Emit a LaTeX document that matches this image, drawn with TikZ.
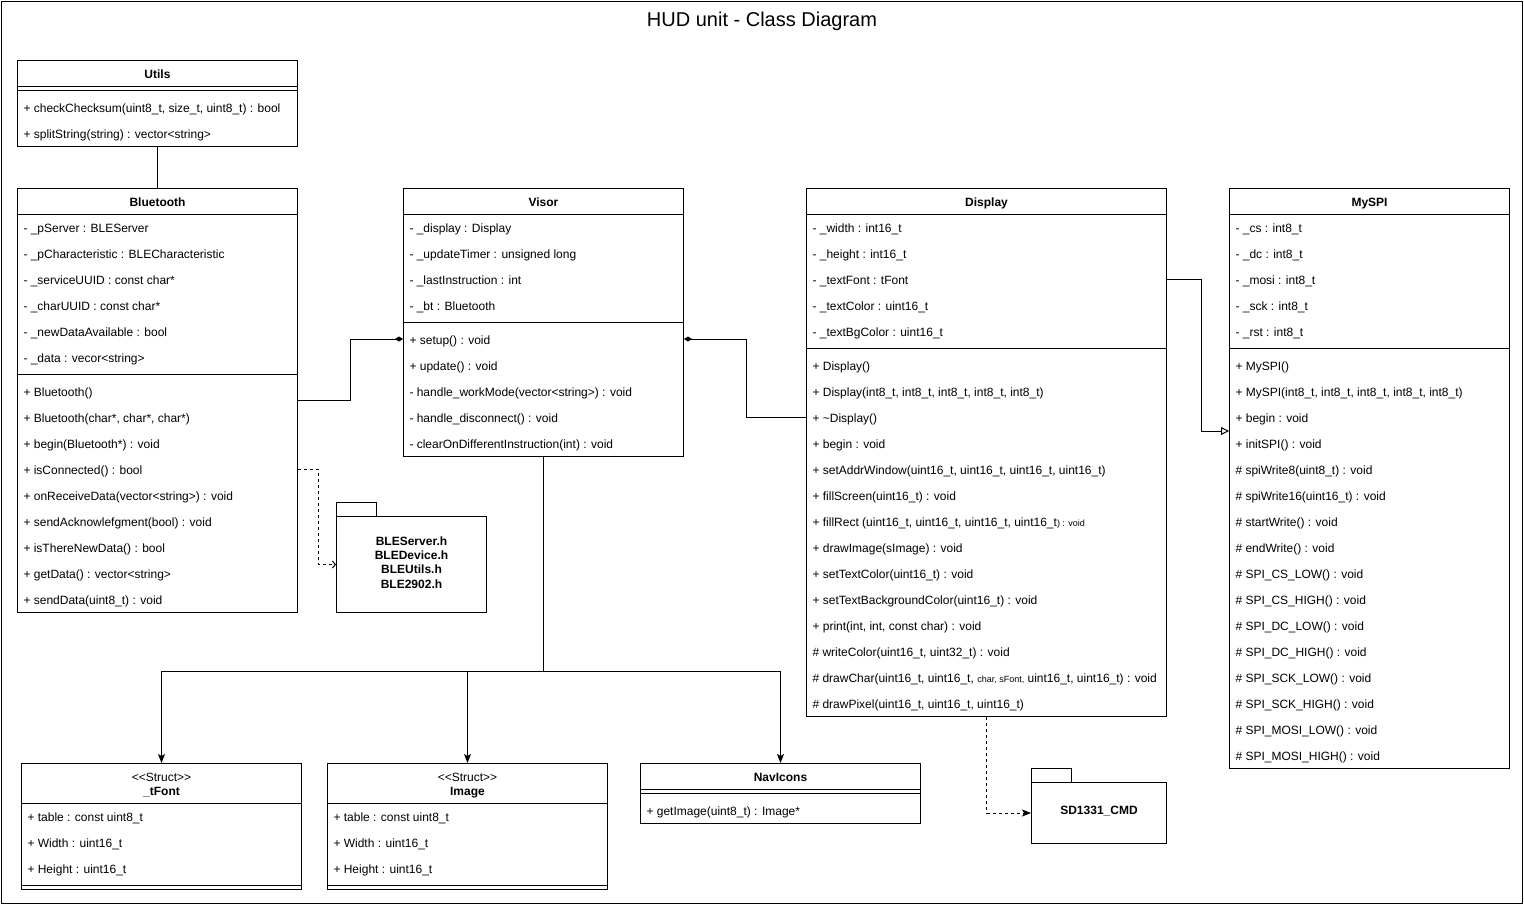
\documentclass[tikz,border=0pt]{standalone}
\usepackage{fontspec}
\setmainfont{Liberation Sans}[Ligatures=TeXOff]
\usetikzlibrary{arrows.meta, positioning, calc}

\begin{document}
\begin{tikzpicture}[
			x=1pt, y=-1pt,
			line width=1pt,
			font=\fontsize{12}{14}\selectfont,
			% Class diagram styles
			classbox/.style={
				draw, rectangle, anchor=north west,
				minimum width=280, inner sep=0pt,
				fill=white
			},
			classname/.style={
				font=\fontsize{12}{14}\selectfont\bfseries,
				inner sep=0pt, text height=10.4pt, text depth=0pt
			},
			stereotype/.style={inner sep=0pt, text height=10.4pt, text depth=0pt},
			member/.style={anchor=west, inner sep=0pt, text height=10.4pt, text depth=0pt},
			pkgtab/.style={
				draw, rectangle, anchor=north west,
				minimum width=40, minimum height=14, inner sep=0pt
			},
			pkgbody/.style={draw, rectangle, anchor=north west, inner sep=0pt, fill=white},
			pkglabel/.style={
				font=\fontsize{12}{14.4}\selectfont\bfseries,
				align=center, inner sep=0pt
			},
			composition/.style={{Diamond[length=8pt,width=5pt]}-},
			inherit/.style={-{Triangle[open,length=8pt,width=8pt]}},
			depend/.style={dash pattern=on 3pt off 3pt, -{Straight Barb[length=3pt,width=7pt]}},
			arrow/.style={-{Stealth[length=9pt,width=7pt,inset=2pt]}},
			dasharrow/.style={dash pattern=on 3pt off 3pt, -{Stealth[length=9pt,width=7pt,inset=2pt]}}
		]

		% Frame and title
		\fill[white] (0,0) rectangle (1524,905);
		\useasboundingbox (0,0) rectangle (1524,905);
		\draw (1.5,1.5) rectangle (1522.5,903.5);
		\node[inner sep=0pt, text height=15pt, text depth=0pt] (title) at (762,19)
			{\fontsize{20}{24}\selectfont HUD unit - Class Diagram};

		% Utils
		\node[classbox, minimum height=86] (utils) at (17,60) {};
		\node[classname] (utils-name) at ($(utils.north)+(0,13)$) {Utils};
		\draw ($(utils.north west)+(0,26)$) -- ++(280,0);
		\draw ($(utils.north west)+(0,30)$) -- ++(280,0);
		\foreach \txt [count=\i] in {
			{+ checkChecksum(uint8\_t, size\_t, uint8\_t) : bool},
			{+ splitString(string) : vector<string>}}
			\node[member] (utils-m\i) at ($(utils.north west)+(6,21+26*\i)$) {\txt};

		% Bluetooth
		\node[classbox, minimum height=424] (bt) at (17,188) {};
		\node[classname] (bt-name) at ($(bt.north)+(0,13)$) {Bluetooth};
		\draw ($(bt.north west)+(0,26)$) -- ++(280,0);
		\draw ($(bt.north west)+(0,186)$) -- ++(280,0);
		\foreach \txt [count=\i] in {
			{- \_pServer : BLEServer},
			{- \_pCharacteristic : BLECharacteristic},
			{- \_serviceUUID : const char*},
			{- \_charUUID : const char*},
			{- \_newDataAvailable : bool},
			{- \_data : vecor<string>}}
			\node[member] (bt-a\i) at ($(bt.north west)+(6,13+26*\i)$) {\txt};
		\foreach \txt [count=\i] in {
			{+ Bluetooth()},
			{+ Bluetooth(char*, char*, char*)},
			{+ begin(Bluetooth*) : void},
			{+ isConnected() : bool},
			{+ onReceiveData(vector<string>) : void},
			{+ sendAcknowlefgment(bool) : void},
			{+ isThereNewData() : bool},
			{+ getData() : vector<string>},
			{+ sendData(uint8\_t) : void}}
			\node[member] (bt-m\i) at ($(bt.north west)+(6,177+26*\i)$) {\txt};

		% Visor
		\node[classbox, minimum height=268] (visor) at (403,188) {};
		\node[classname] (visor-name) at ($(visor.north)+(0,13)$) {Visor};
		\draw ($(visor.north west)+(0,26)$) -- ++(280,0);
		\draw ($(visor.north west)+(0,134)$) -- ++(280,0);
		\foreach \txt [count=\i] in {
			{- \_display : Display},
			{- \_updateTimer : unsigned long},
			{- \_lastInstruction : int},
			{- \_bt : Bluetooth}}
			\node[member] (visor-a\i) at ($(visor.north west)+(6,13+26*\i)$) {\txt};
		\foreach \txt [count=\i] in {
			{+ setup() : void},
			{+ update() : void},
			{- handle\_workMode(vector<string>) : void},
			{- handle\_disconnect() : void},
			{- clearOnDifferentInstruction(int) : void}}
			\node[member] (visor-m\i) at ($(visor.north west)+(6,125+26*\i)$) {\txt};

		% Display
		\node[classbox, minimum width=360, minimum height=528] (display) at (806,188) {};
		\node[classname] (display-name) at ($(display.north)+(0,13)$) {Display};
		\draw ($(display.north west)+(0,26)$) -- ++(360,0);
		\draw ($(display.north west)+(0,160)$) -- ++(360,0);
		\foreach \txt [count=\i] in {
			{- \_width : int16\_t},
			{- \_height : int16\_t},
			{- \_textFont : tFont},
			{- \_textColor : uint16\_t},
			{- \_textBgColor : uint16\_t}}
			\node[member] (display-a\i) at ($(display.north west)+(6,13+26*\i)$) {\txt};
		\foreach \txt [count=\i] in {
			{+ Display()},
			{+ Display(int8\_t, int8\_t, int8\_t, int8\_t, int8\_t)},
			{+ \textasciitilde Display()},
			{+ begin : void},
			{+ setAddrWindow(uint16\_t, uint16\_t, uint16\_t, uint16\_t)},
			{+ fillScreen(uint16\_t) : void},
			{+ fillRect (uint16\_t, uint16\_t, uint16\_t, uint16\_t{\fontsize{9}{9}\selectfont) : void}},
			{+ drawImage(sImage) : void},
			{+ setTextColor(uint16\_t) : void},
			{+ setTextBackgroundColor(uint16\_t) : void},
			{+ print(int, int, const char) : void},
			{\# writeColor(uint16\_t, uint32\_t) : void},
			{\# drawChar(uint16\_t, uint16\_t, {\fontsize{9}{9}\selectfont char, sFont,} uint16\_t, uint16\_t) : void},
			{\# drawPixel(uint16\_t, uint16\_t, uint16\_t)}}
			\node[member] (display-m\i) at ($(display.north west)+(6,151+26*\i)$) {\txt};

		% MySPI
		\node[classbox, minimum height=580] (myspi) at (1229,188) {};
		\node[classname] (myspi-name) at ($(myspi.north)+(0,13)$) {MySPI};
		\draw ($(myspi.north west)+(0,26)$) -- ++(280,0);
		\draw ($(myspi.north west)+(0,160)$) -- ++(280,0);
		\foreach \txt [count=\i] in {
			{- \_cs : int8\_t},
			{- \_dc : int8\_t},
			{- \_mosi : int8\_t},
			{- \_sck : int8\_t},
			{- \_rst : int8\_t}}
			\node[member] (myspi-a\i) at ($(myspi.north west)+(6,13+26*\i)$) {\txt};
		\foreach \txt [count=\i] in {
			{+ MySPI()},
			{+ MySPI(int8\_t, int8\_t, int8\_t, int8\_t, int8\_t)},
			{+ begin : void},
			{+ initSPI() : void},
			{\# spiWrite8(uint8\_t) : void},
			{\# spiWrite16(uint16\_t) : void},
			{\# startWrite() : void},
			{\# endWrite() : void},
			{\# SPI\_CS\_LOW() : void},
			{\# SPI\_CS\_HIGH() : void},
			{\# SPI\_DC\_LOW() : void},
			{\# SPI\_DC\_HIGH() : void},
			{\# SPI\_SCK\_LOW() : void},
			{\# SPI\_SCK\_HIGH() : void},
			{\# SPI\_MOSI\_LOW() : void},
			{\# SPI\_MOSI\_HIGH() : void}}
			\node[member] (myspi-m\i) at ($(myspi.north west)+(6,151+26*\i)$) {\txt};

		% Structs
		\node[classbox, minimum height=126] (tfont) at (21,763) {};
		\node[stereotype] (tfont-st) at ($(tfont.north)+(0,13)$) {<<Struct>>};
		\node[classname] (tfont-name) at ($(tfont.north)+(0,27)$) {\_tFont};
		\draw ($(tfont.north west)+(0,40)$) -- ++(280,0);
		\draw ($(tfont.north west)+(0,122)$) -- ++(280,0);
		\foreach \txt [count=\i] in {
			{+ table : const uint8\_t},
			{+ Width : uint16\_t},
			{+ Height : uint16\_t}}
			\node[member] (tfont-a\i) at ($(tfont.north west)+(6,27+26*\i)$) {\txt};

		\node[classbox, minimum height=126] (image) at (327,763) {};
		\node[stereotype] (image-st) at ($(image.north)+(0,13)$) {<<Struct>>};
		\node[classname] (image-name) at ($(image.north)+(0,27)$) {Image};
		\draw ($(image.north west)+(0,40)$) -- ++(280,0);
		\draw ($(image.north west)+(0,122)$) -- ++(280,0);
		\foreach \txt [count=\i] in {
			{+ table : const uint8\_t},
			{+ Width : uint16\_t},
			{+ Height : uint16\_t}}
			\node[member] (image-a\i) at ($(image.north west)+(6,27+26*\i)$) {\txt};

		% NavIcons
		\node[classbox, minimum height=60] (navicons) at (640,763) {};
		\node[classname] (navicons-name) at ($(navicons.north)+(0,13)$) {NavIcons};
		\draw ($(navicons.north west)+(0,26)$) -- ++(280,0);
		\draw ($(navicons.north west)+(0,30)$) -- ++(280,0);
		\node[member] (navicons-m1) at ($(navicons.north west)+(6,47)$) {+ getImage(uint8\_t) : Image*};

		% Packages
		\node[pkgtab] (blepkg-tab) at (336,502) {};
		\node[pkgbody, minimum width=150, minimum height=96] (blepkg) at (336,516) {};
		\node[pkglabel] (blepkg-label) at ($(blepkg.center)+(0,-2)$)
			{BLEServer.h\\BLEDevice.h\\BLEUtils.h\\BLE2902.h};

		\node[pkgtab] (sdpkg-tab) at (1031,768) {};
		\node[pkgbody, minimum width=135, minimum height=61] (sdpkg) at (1031,782) {};
		\node[pkglabel] (sdpkg-label) at ($(sdpkg.center)+(0,-2)$) {SD1331\_CMD};

		% Connectors
		\draw (utils.south) -- (bt.north);
		\draw[composition] (visor.west |- visor-m1) -- ++(-53,0) |- (bt.east);
		\draw[composition] (visor.east |- visor-m1) -- ++(62,0) |- (display.west |- display-m3);
		\coordinate (myspi-in) at ($(myspi.north west)+(0,243)$);
		\draw[inherit] (display.east |- display-a3) -- ++(34,0) |- (myspi-in);
		\draw[depend] (bt.east |- bt-m4) -- ++(20,0) |- (blepkg.west);

		\draw (visor.south) -- ++(0,214) coordinate (visor-split);
		\draw[arrow] (visor-split) -| (tfont.north);
		\draw[arrow] (visor-split) -| (image.north);
		\draw[arrow] (visor-split) -| (navicons.north);

		\draw[dasharrow] (display.south) |- (sdpkg.west);

		\end{tikzpicture}
\end{document}
